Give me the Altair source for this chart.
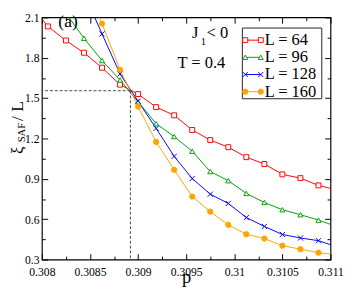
import altair as alt
import pandas as pd

FONT = "Liberation Serif"

# ---- data ----
p_values = [0.307875, 0.3080625, 0.30825, 0.3084375, 0.308625, 0.3088125, 0.309,
            0.3091875, 0.309375, 0.3095625, 0.30975, 0.3099375, 0.310125,
            0.3103125, 0.3105, 0.3106875, 0.310875, 0.3110625]
xi_64 = [2.20, 2.033, 1.928, 1.837, 1.726, 1.600, 1.530, 1.433, 1.372, 1.263,
         1.188, 1.135, 1.061, 1.010, 0.933, 0.905, 0.851, 0.818]
xi_96 = [None, None, 2.13, 1.945, 1.779, 1.635, 1.472, 1.310, 1.214, 1.105,
         0.954, 0.886, 0.791, 0.724, 0.670, 0.633, 0.593, 0.545]
xi_128 = [None, None, None, 2.28, 1.977, 1.680, 1.477, 1.275, 1.067, 0.902,
          0.786, 0.717, 0.612, 0.546, 0.486, 0.460, 0.440, 0.395]
xi_160 = [None, None, None, 2.35, 2.054, 1.710, 1.437, 1.174, 0.967, 0.768,
          0.656, 0.558, 0.488, 0.456, 0.403, 0.377, 0.351, 0.335]
sizes_L = ["64", "96", "128", "160"]
legend_labels = ["L = 64", "L = 96", "L = 128", "L = 160"]
p_cross = [0.30892]
xi_cross = [1.555]

x_major = [0.308, 0.3085, 0.309, 0.3095, 0.31, 0.3105, 0.311]
x_minor = [0.30825, 0.30875, 0.30925, 0.30975, 0.31025, 0.31075]
y_major = [0.3, 0.6, 0.9, 1.2, 1.5, 1.8, 2.1]
y_minor = [0.45, 0.75, 1.05, 1.35, 1.65, 1.95]

# ---- tables ----
rows = []
for L, ser in zip(sizes_L, [xi_64, xi_96, xi_128, xi_160]):
    for p, v in zip(p_values, ser):
        if v is not None:
            rows.append({"p": p, "xi": v, "L": L})
df = pd.DataFrame(rows)
crit = pd.DataFrame({"pc": p_cross, "xc": xi_cross})
leg = pd.DataFrame({"L": sizes_L, "label": legend_labels})

colors = ["#ff0000", "#00a000", "#0000ff", "#ffa500"]
XPATH = "M-1,-1L1,1M-1,1L1,-1"
color_scale = alt.Scale(domain=sizes_L, range=colors)
shape_scale = alt.Scale(domain=sizes_L, range=["square", "triangle-up", XPATH, "circle"])
fill_scale = alt.Scale(domain=sizes_L, range=["white", "white", "white", "#ffa500"])
size_scale = alt.Scale(domain=sizes_L, range=[26, 30, 24, 18])

W, H = 298, 250


def ax(orient, values, size, labels=False, **kw):
    base = dict(orient=orient, values=values, offset=-size, tickSize=size,
                tickColor="black", tickWidth=1, domain=False, grid=False,
                labels=labels, title=None)
    base.update(kw)
    return alt.Axis(**base)


ax_x_main = ax("bottom", x_major, 6, labels=True, format=".4~f", labelFont=FONT,
               labelFontSize=12, labelColor="black", labelPadding=8,
               labelFlush=False, labelOverlap=False, title="p",
               titleFont=FONT, titleFontSize=19, titleFontWeight="normal",
               titleColor="black", titlePadding=-10)
ax_y_main = ax("left", y_major, 6, labels=True, format=".1f", labelFont=FONT,
               labelFontSize=12, labelColor="black", labelPadding=3,
               labelFlush=False, labelOverlap=False)


def X(field, axis):
    return alt.X(field, type="quantitative",
                 scale=alt.Scale(domain=[0.308, 0.311], nice=False, zero=False), axis=axis)


def Y(field, axis):
    return alt.Y(field, type="quantitative",
                 scale=alt.Scale(domain=[0.3, 2.1], nice=False, zero=False), axis=axis)


lines = alt.Chart(df).mark_line(clip=True, strokeWidth=1).encode(
    x=X("p", ax_x_main), y=Y("xi", ax_y_main),
    color=alt.Color("L:N", scale=color_scale, legend=None),
)

points = alt.Chart(df).mark_point(clip=True, filled=True, strokeWidth=1, opacity=1).encode(
    x=X("p", ax("top", x_major, 6)),
    y=Y("xi", ax("right", y_major, 6)),
    shape=alt.Shape("L:N", scale=shape_scale, legend=None),
    stroke=alt.Stroke("L:N", scale=color_scale, legend=None),
    fill=alt.Fill("L:N", scale=fill_scale, legend=None),
    size=alt.Size("L:O", scale=size_scale, legend=None),
)

dash = dict(strokeDash=[3, 2], color="#444444", strokeWidth=1)
hline = alt.Chart(crit).mark_rule(**dash).encode(
    x=X("pc", ax("bottom", x_minor, 3.5)), x2=alt.value(0),
    y=Y("xc", ax("left", y_minor, 3.5)),
)
vline = alt.Chart(crit).mark_rule(**dash).encode(
    x=X("pc", ax("top", x_minor, 3.5)),
    y=Y("xc", ax("right", y_minor, 3.5)), y2=alt.value(H),
)


def label(text, x, y, size, align="left", baseline="alphabetic", angle=0):
    return alt.Chart(pd.DataFrame({"t": [text]})).mark_text(
        font=FONT, fontSize=size, align=align, baseline=baseline, angle=angle,
        color="black").encode(x=alt.value(x), y=alt.value(y), text="t:N")


annots = [
    label("(a)", 27, 5, 18, align="center", baseline="middle"),
    label("J", 155, 21, 17),
    label("1", 164, 28, 11),
    label("< 0", 170, 21, 17),
    label("T = 0.4", 140, 52, 17),
    label("\u03be", -20, 141, 17, angle=270),
    label("SAF", -17, 129, 11, angle=270),
    label("/ L", -19, 107, 18, angle=270),
]

box = alt.Chart(pd.DataFrame({"b": [0]})).mark_rect(
    fill="white", stroke="#222222", strokeWidth=1).encode(
    x=alt.value(207), x2=alt.value(289), y=alt.value(11), y2=alt.value(84))

leg_y = alt.Y("L:N", scale=alt.Scale(type="point", domain=sizes_L,
                                     range=[23.5, 76.7], padding=0), axis=None)
leg_rule = alt.Chart(leg).mark_rule(strokeWidth=1).encode(
    x=alt.value(210), x2=alt.value(226), y=leg_y,
    color=alt.Color("L:N", scale=color_scale, legend=None))


def leg_pts(xpix):
    return alt.Chart(leg).mark_point(filled=True, strokeWidth=1, opacity=1).encode(
        x=alt.value(xpix), y=leg_y,
        shape=alt.Shape("L:N", scale=shape_scale, legend=None),
        stroke=alt.Stroke("L:N", scale=color_scale, legend=None),
        fill=alt.Fill("L:N", scale=fill_scale, legend=None),
        size=alt.Size("L:O", scale=size_scale, legend=None))


leg_text = alt.Chart(leg).mark_text(font=FONT, fontSize=17, align="left",
                                    baseline="middle", color="black").encode(
    x=alt.value(230), y=leg_y, text="label:N")

chart = alt.layer(
    lines, points, hline, vline, *annots, box, leg_rule, leg_pts(210), leg_pts(226), leg_text
).resolve_scale(x="independent", y="independent").properties(
    width=W, height=H,
    autosize=alt.AutoSizeParams(type="none"),
    padding={"left": 35, "top": 5, "right": 16, "bottom": 34},
).configure_view(stroke="black", strokeWidth=1.2)

chart.save("out.html", embed_options={"renderer": "svg", "actions": False})
